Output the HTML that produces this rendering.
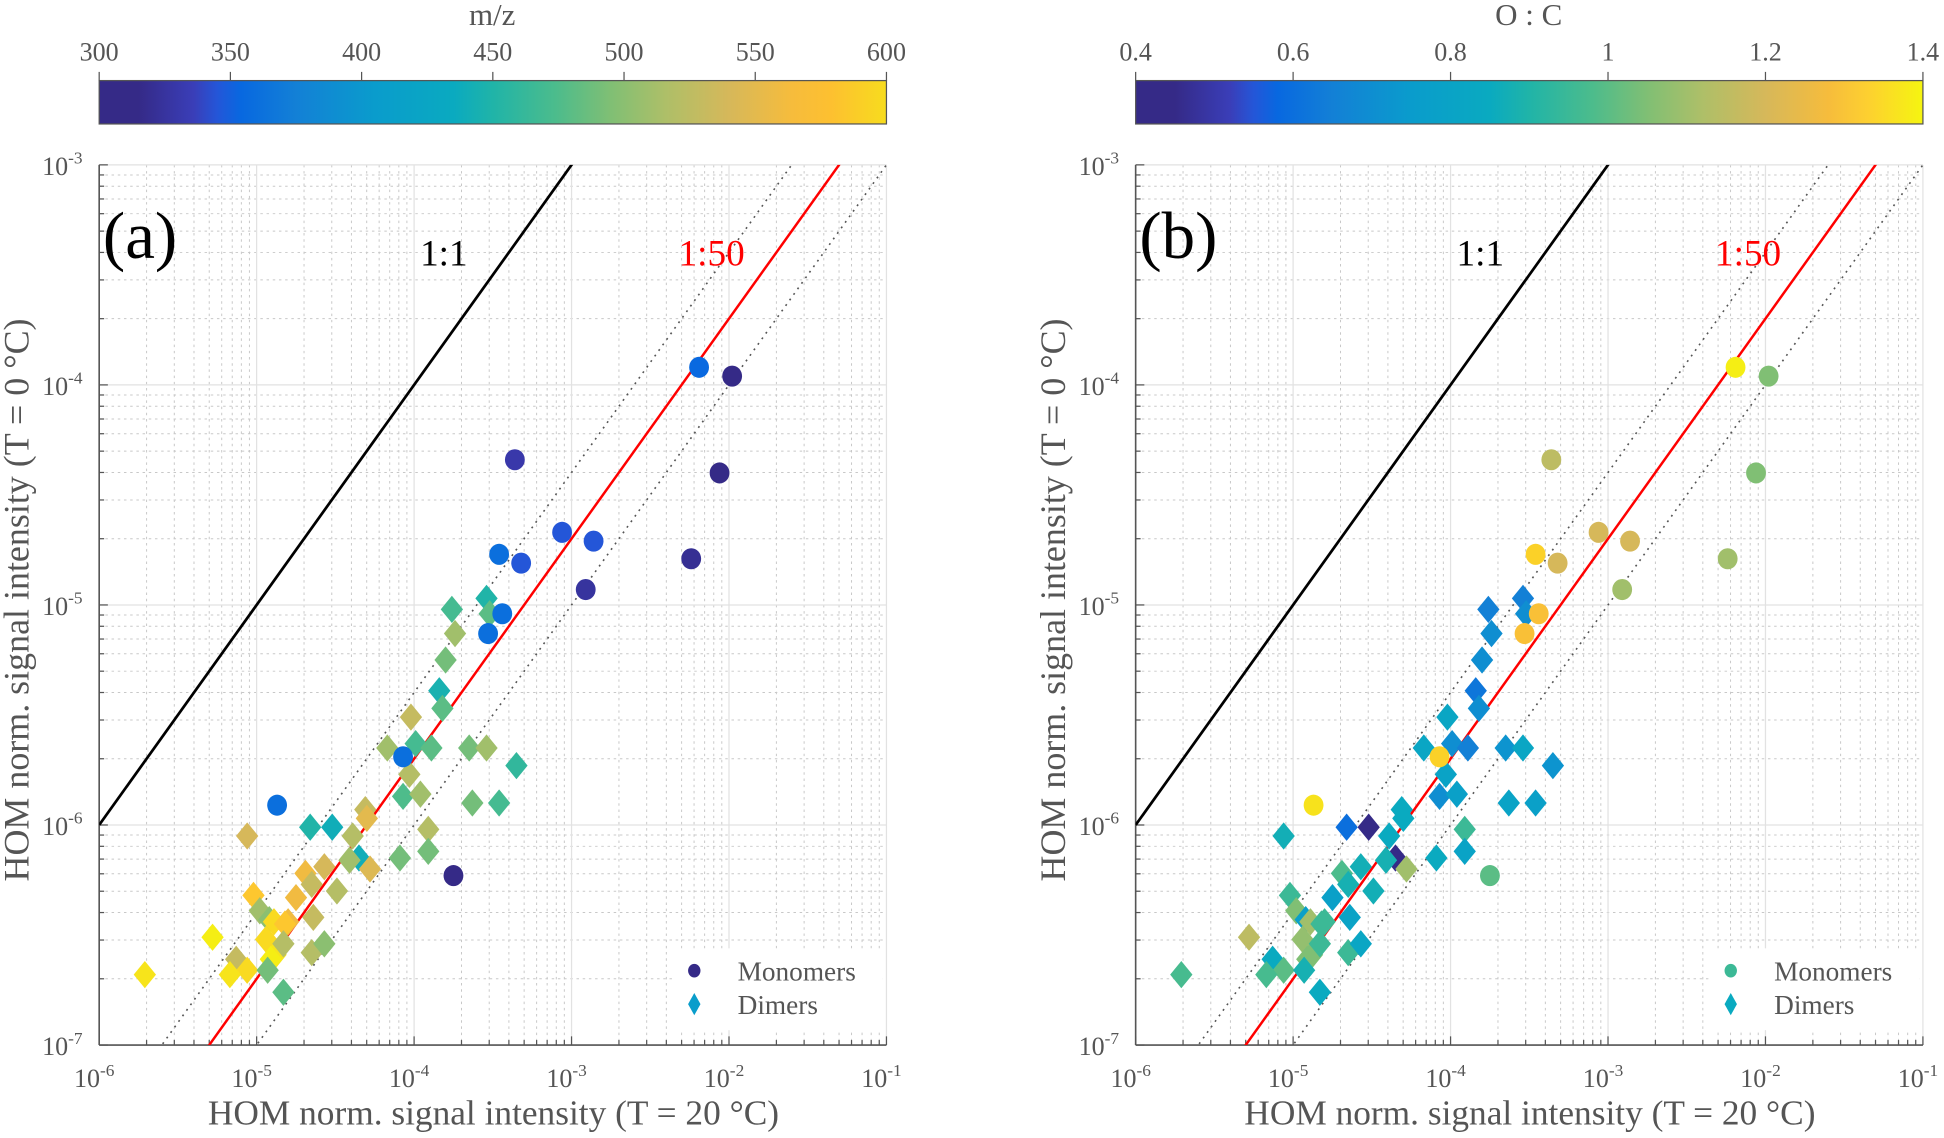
<!DOCTYPE html>
<html><head><meta charset="utf-8"><style>
html,body{margin:0;padding:0;background:#fff;overflow:hidden;width:1944px;height:1138px;}
svg{display:block;}
text{font-family:"Liberation Serif",serif;}
</style></head><body>
<svg id="fig" width="1944" height="1138" viewBox="0 0 1568 918" preserveAspectRatio="none" xmlns="http://www.w3.org/2000/svg">
<defs>
<linearGradient id="gradA" x1="0" x2="1" y1="0" y2="0">
<stop offset="0" stop-color="#352a87"/><stop offset="0.05" stop-color="#352a87"/><stop offset="0.12" stop-color="#3a3eb8"/><stop offset="0.15" stop-color="#2456d8"/><stop offset="0.18" stop-color="#0868e0"/><stop offset="0.25" stop-color="#1380d6"/><stop offset="0.35" stop-color="#0a9ccc"/><stop offset="0.45" stop-color="#0aaac0"/><stop offset="0.5" stop-color="#20b4a8"/><stop offset="0.58" stop-color="#4cbc8c"/><stop offset="0.65" stop-color="#80bf74"/><stop offset="0.72" stop-color="#aebf68"/><stop offset="0.8" stop-color="#d6b85a"/><stop offset="0.88" stop-color="#f6bc3c"/><stop offset="0.93" stop-color="#fdc030"/><stop offset="1" stop-color="#f7dc1e"/>
</linearGradient>
<linearGradient id="gradB" x1="0" x2="1" y1="0" y2="0">
<stop offset="0" stop-color="#352a87"/><stop offset="0.05" stop-color="#352a87"/><stop offset="0.12" stop-color="#3a3eb8"/><stop offset="0.15" stop-color="#2456d8"/><stop offset="0.18" stop-color="#0868e0"/><stop offset="0.25" stop-color="#1380d6"/><stop offset="0.35" stop-color="#0a9ccc"/><stop offset="0.45" stop-color="#0aaac0"/><stop offset="0.5" stop-color="#20b4a8"/><stop offset="0.58" stop-color="#4cbc8c"/><stop offset="0.65" stop-color="#80bf74"/><stop offset="0.72" stop-color="#aebf68"/><stop offset="0.8" stop-color="#d6b85a"/><stop offset="0.88" stop-color="#f6bc3c"/><stop offset="0.93" stop-color="#fdd030"/><stop offset="1" stop-color="#f5f510"/>
</linearGradient>
</defs>
</svg>
<script>
// ---- data (log10 values) ----
const monoLogX = [-2.19,-1.98,-3.36,-2.06,-3.06,-2.86,-3.46,-3.32,-2.24,-2.91,-3.44,-3.53,-4.07,-4.87,-3.75];
const monoLogY = [-3.92,-3.96,-4.34,-4.40,-4.67,-4.71,-4.77,-4.81,-4.79,-4.93,-5.04,-5.13,-5.69,-5.91,-6.23];
const monoMz   = [355,310,330,305,345,345,360,345,320,325,360,360,360,360,305];
const monoOC   = [1.40,1.05,1.15,1.05,1.20,1.20,1.35,1.20,1.10,1.10,1.30,1.30,1.35,1.38,1.00];
const dimLogX = [-3.76,-3.54,-3.52,-3.74,-3.80,-3.84,-3.82,-4.02,-4.17,-3.99,-3.89,-3.65,-3.54,-3.35,-4.03,-4.07,-3.96,-3.63,-3.46,-4.31,-4.30,-4.66,-4.52,-5.06,-4.39,-4.35,-3.91,-3.91,-4.41,-4.09,-4.28,-4.69,-4.57,-4.65,-4.75,-4.49,-5.02,-4.98,-4.92,-4.89,-4.80,-4.94,-4.64,-4.82,-5.28,-4.88,-4.83,-4.65,-4.57,-5.13,-5.06,-5.17,-5.71,-4.91,-4.93,-4.83];
const dimLogY = [-5.02,-4.97,-5.04,-5.13,-5.25,-5.39,-5.47,-5.51,-5.65,-5.63,-5.65,-5.65,-5.65,-5.73,-5.77,-5.87,-5.86,-5.90,-5.90,-5.93,-5.97,-6.01,-6.01,-6.05,-6.05,-6.15,-6.02,-6.12,-6.16,-6.15,-6.20,-6.22,-6.19,-6.27,-6.33,-6.30,-6.32,-6.39,-6.43,-6.44,-6.44,-6.52,-6.42,-6.45,-6.51,-6.59,-6.54,-6.58,-6.54,-6.61,-6.66,-6.68,-6.68,-6.61,-6.66,-6.76];
const dimMz = [470,450,480,510,490,445,480,530,510,470,480,490,510,460,520,475,510,490,470,530,550,450,440,540,520,440,520,490,510,490,545,560,540,530,560,520,580,510,500,590,560,590,530,580,600,595,520,520,500,530,590,595,595,600,490,480];
const dimOC = [0.65,0.65,0.70,0.70,0.70,0.62,0.70,0.82,0.82,0.70,0.65,0.72,0.82,0.72,0.80,0.70,0.78,0.80,0.78,0.85,0.85,0.60,0.45,0.87,0.85,0.42,0.95,0.80,0.88,0.85,1.10,0.98,0.87,0.88,0.78,0.87,0.95,1.05,0.78,1.10,0.95,1.08,0.80,0.95,1.15,1.05,0.95,0.95,0.82,0.85,1.00,0.97,0.97,1.05,0.88,0.85];
const xTickExp = [-6,-5,-4,-3,-2,-1];
const yTickExp = [-7,-6,-5,-4,-3];
const mzTicks = [300,350,400,450,500,550,600];
const ocTicks = ['0.4','0.6','0.8','1','1.2','1.4'];
const refRatios = [1,25,50,100];

const NS='http://www.w3.org/2000/svg';
const svg=document.getElementById('fig');
function mk(tag,attrs,parent){const e=document.createElementNS(NS,tag);for(const k in attrs)e.setAttribute(k,attrs[k]);(parent||svg).appendChild(e);return e;}

const stops=[[0,'#352a87'],[0.05,'#352a87'],[0.12,'#3a3eb8'],[0.15,'#2456d8'],[0.18,'#0868e0'],[0.25,'#1380d6'],[0.35,'#0a9ccc'],[0.45,'#0aaac0'],[0.5,'#20b4a8'],[0.58,'#4cbc8c'],[0.65,'#80bf74'],[0.72,'#aebf68'],[0.8,'#d6b85a'],[0.88,'#f6bc3c'],[0.93,'#fdc530'],[1,'#f5ee14']];
function hex(h){return [parseInt(h.substr(1,2),16),parseInt(h.substr(3,2),16),parseInt(h.substr(5,2),16)];}
function cmap(t){t=Math.max(0,Math.min(1,t));for(let i=1;i<stops.length;i++){if(t<=stops[i][0]){const a=stops[i-1],b=stops[i];const f=(t-a[0])/((b[0]-a[0])||1);const ca=hex(a[1]),cb=hex(b[1]);return 'rgb('+ca.map((v,j)=>Math.round(v+(cb[j]-v)*f)).join(',')+')';}}return stops[stops.length-1][1];}

const PY0=133,PY1=843,XMIN=-6,XMAX=-1,YMIN=-7,YMAX=-3;
function sy(ly){return PY1-(ly-YMIN)/(YMAX-YMIN)*(PY1-PY0);}

function panel(px0,label,cbTitle,cbLabels,cbMin,cbMax,grad,colorVals,monoColorVals,id){
  const px1=px0+635;
  const sx=lx=>px0+(lx-XMIN)/(XMAX-XMIN)*(px1-px0);
  const g=mk('g',{});
  
  
  const cb=mk('rect',{x:px0,y:65,width:635,height:35,fill:'url(#'+grad+')',stroke:'#555','stroke-width':1},g);
  
  
  cbLabels.forEach((lab,i)=>{
    const x=px0+i/(cbLabels.length-1)*635;
    mk('line',{x1:x,x2:x,y1:65,y2:58,stroke:'#555'},g);
    const t=mk('text',{x:x,y:49,'text-anchor':'middle','font-size':21,fill:'#555'},g);t.textContent=lab;
    
    
  });
  const ct=mk('text',{x:px0+317,y:20,'text-anchor':'middle','font-size':25,fill:'#555'},g);ct.textContent=cbTitle;
  
  
  for(let d=XMIN;d<XMAX;d++){for(let m=2;m<=9;m++){const x=sx(d+Math.log10(m));mk('line',{x1:x,x2:x,y1:PY0,y2:PY1,stroke:'#c8c8c8','stroke-width':0.8,'stroke-dasharray':'2,3'},g);}}
  for(let d=YMIN;d<YMAX;d++){for(let m=2;m<=9;m++){const y=sy(d+Math.log10(m));mk('line',{x1:px0,x2:px1,y1:y,y2:y,stroke:'#c8c8c8','stroke-width':0.8,'stroke-dasharray':'2,3'},g);}}
  xTickExp.forEach(e=>{const x=sx(e);mk('line',{x1:x,x2:x,y1:PY0,y2:PY1,stroke:'#e2e2e2','stroke-width':1},g);});
  yTickExp.forEach(e=>{const y=sy(e);mk('line',{x1:px0,x2:px1,y1:y,y2:y,stroke:'#e2e2e2','stroke-width':1},g);});
  mk('line',{x1:px0,x2:px1,y1:PY1,y2:PY1,stroke:'#555','stroke-width':1.3},g);
  mk('line',{x1:px0,x2:px0,y1:PY0,y2:PY1,stroke:'#555','stroke-width':1.3},g);
  xTickExp.forEach(e=>{const x=sx(e);mk('line',{x1:x,x2:x,y1:PY1,y2:PY1-7,stroke:'#555'},g);
    for(let m=2;m<=9&&e<XMAX;m++){const xm=sx(e+Math.log10(m));mk('line',{x1:xm,x2:xm,y1:PY1,y2:PY1-4,stroke:'#555'},g);}
    const t=mk('text',{x:x-4,y:PY1+34,'text-anchor':'middle','font-size':21,fill:'#555'},g);
    
    
    t.innerHTML='10<tspan dy="-9" font-size="14">'+e+'</tspan>';});
  yTickExp.forEach(e=>{const y=sy(e);mk('line',{x1:px0,x2:px0+7,y1:y,y2:y,stroke:'#555'},g);
    for(let m=2;m<=9&&e<YMAX;m++){const ym=sy(e+Math.log10(m));mk('line',{x1:px0,x2:px0+4,y1:ym,y2:ym,stroke:'#555'},g);}
    const t=mk('text',{x:px0-46,y:y+8,'font-size':21,fill:'#555'},g);
    
    
    t.innerHTML='10<tspan dy="-9" font-size="14">'+e+'</tspan>';});
  const cp=mk('clipPath',{id:'clip'+id},g);mk('rect',{x:px0,y:PY0,width:635,height:PY1-PY0},cp);
  const lg=mk('g',{'clip-path':'url(#clip'+id+')'},g);
  refRatios.forEach(r=>{
    const lr=Math.log10(r);
    const attrs={x1:sx(XMIN),y1:sy(XMIN-lr),x2:sx(XMAX),y2:sy(XMAX-lr)};
    if(r===1){attrs.stroke='#000';attrs['stroke-width']=2.2;}
    else if(r===50){attrs.stroke='#f00';attrs['stroke-width']=2;}
    else{attrs.stroke='#555';attrs['stroke-width']=1.3;attrs['stroke-dasharray']='1.5,4';}
    const l=mk('line',attrs,lg);
    
    
  });
  dimLogX.forEach((lx,i)=>{const x=sx(lx),y=sy(dimLogY[i]);
    const p=mk('polygon',{points:[x+','+(y-11),(x+9)+','+y,x+','+(y+11),(x-9)+','+y].join(' '),fill:cmap((colorVals[i]-cbMin)/(cbMax-cbMin))},lg);
    
    });
  monoLogX.forEach((lx,i)=>{const x=sx(lx),y=sy(monoLogY[i]);
    const c=mk('ellipse',{cx:x,cy:y,rx:8,ry:8.5,fill:cmap((monoColorVals[i]-cbMin)/(cbMax-cbMin))},lg);
    
    });
  const pl=mk('text',{x:px0+3,y:208,'font-size':54,fill:'#000'},g);pl.textContent=label;
  
  
  const t1=mk('text',{x:px0+278,y:214,'font-size':30,fill:'#000','text-anchor':'middle'},g);t1.textContent='1:1';
  
  
  const t2=mk('text',{x:px0+494,y:214,'font-size':30,fill:'#f00','text-anchor':'middle'},g);t2.textContent='1:50';
  
  
  const lgd=mk('g',{},g);
  
  
  mk('rect',{x:px0+462,y:765,width:170,height:66,fill:'#fff'},lgd);
  mk('ellipse',{cx:px0+480,cy:783,rx:5,ry:5.5,fill:cmap(id==='a'?0:0.55)},lgd);
  mk('polygon',{points:[(px0+480)+',801',(px0+485)+',810',(px0+480)+',819',(px0+475)+',810'].join(' '),fill:cmap(id==='a'?0.36:0.45)},lgd);
  const m1=mk('text',{x:px0+515,y:791,'font-size':22,fill:'#555'},lgd);m1.textContent='Monomers';
  const m2=mk('text',{x:px0+515,y:818,'font-size':22,fill:'#555'},lgd);m2.textContent='Dimers';
  const xt=mk('text',{x:px0+318,y:907,'text-anchor':'middle','font-size':28.5,fill:'#555'},g);xt.textContent='HOM norm. signal intensity (T = 20 °C)';
  
  
  const yt=mk('text',{x:0,y:0,'text-anchor':'middle','font-size':29,fill:'#555',transform:'translate('+(px0-57)+',484) rotate(-90)'},g);yt.textContent='HOM norm. signal intensity (T = 0 °C)';
  
  
}
panel(80,'(a)','m/z',mzTicks.map(String),300,600,'gradA',dimMz,monoMz,'a');
panel(916,'(b)','O : C',ocTicks,0.4,1.4,'gradB',dimOC,monoOC,'b');
</script>
</body></html>
